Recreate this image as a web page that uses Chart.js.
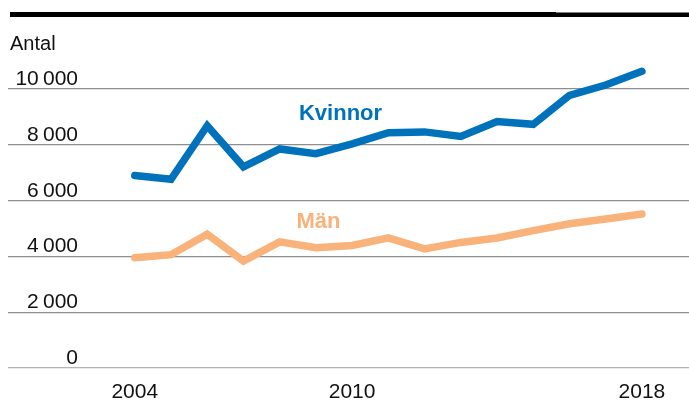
<!DOCTYPE html>
<html lang="sv">
<head>
  <meta charset="UTF-8" />
  <title>Antal - Kvinnor och Män</title>
  <script src="https://cdn.jsdelivr.net/npm/chart.js"></script>
  <style>
    body { margin: 0; background: #fff; }
    #wrap { width: 689px; height: 402px; position: relative; }
  </style>
</head>
<body>
  <div id="wrap"><canvas id="chart"></canvas></div>

  <script>
    const years = [2004, 2005, 2006, 2007, 2008, 2009, 2010, 2011, 2012, 2013, 2014, 2015, 2016, 2017, 2018];
    const kvinnor = [6900, 6760, 8680, 7210, 7850, 7680, 8030, 8430, 8460, 8300, 8830, 8730, 9770, 10140, 10630];
    const man = [3950, 4060, 4790, 3830, 4520, 4310, 4390, 4660, 4270, 4500, 4660, 4920, 5170, 5340, 5520];
    const yearTicks = [2004, 2010, 2018];
    const valueTicks = [0, 2000, 4000, 6000, 8000, 10000];

    const FONT = "'Liberation Sans', Arial, sans-serif";
    const BLUE = '#0072bc';
    const ORANGE = '#f9b27a';

    function fmt(v) {
      return String(v).replace(/\B(?=(\d{3})+(?!\d))/g, '\u2009');
    }

    // rubrik, svart linje och y-etiketter ovanför stödlinjerna
    const decor = {
      id: 'decor',
      afterDraw(chart) {
        const ctx = chart.ctx;
        const y = chart.scales.y;
        const x = chart.scales.x;
        ctx.save();
        ctx.fillStyle = '#000';
        ctx.fillRect(10, 12, 546, 5);
        ctx.fillRect(556, 12.5, 133, 4.5);

        ctx.fillStyle = '#111';
        ctx.font = '20px ' + FONT;
        ctx.textAlign = 'left';
        ctx.textBaseline = 'alphabetic';
        ctx.fillText('Antal', 10, 50);

        ctx.font = '21px ' + FONT;
        ctx.textAlign = 'right';
        y.ticks.forEach(t => {
          ctx.fillText(fmt(t.value), 78, y.getPixelForValue(t.value) - 4);
        });

        ctx.font = 'bold 22px ' + FONT;
        ctx.textAlign = 'center';
        ctx.fillStyle = BLUE;
        ctx.fillText('Kvinnor', x.getPixelForValue(2009.68), y.getPixelForValue(8900));
        ctx.fillStyle = ORANGE;
        ctx.fillText('Män', x.getPixelForValue(2009.07), y.getPixelForValue(5000));
        ctx.restore();
      }
    };

    new Chart(document.getElementById('chart'), {
      type: 'line',
      data: {
        datasets: [
          {
            label: 'Kvinnor',
            data: years.map((yr, i) => ({ x: yr, y: kvinnor[i] })),
            borderColor: BLUE,
            borderWidth: 7.5,
            borderCapStyle: 'round',
            borderJoinStyle: 'miter',
            pointRadius: 0,
            tension: 0,
            clip: false
          },
          {
            label: 'Män',
            data: years.map((yr, i) => ({ x: yr, y: man[i] })),
            borderColor: ORANGE,
            borderWidth: 7.5,
            borderCapStyle: 'round',
            borderJoinStyle: 'miter',
            pointRadius: 0,
            tension: 0,
            clip: false
          }
        ]
      },
      options: {
        responsive: true,
        maintainAspectRatio: false,
        animation: false,
        layout: { padding: { left: 8, right: 0, top: 61, bottom: 0 } },
        plugins: { legend: { display: false }, tooltip: { enabled: false } },
        scales: {
          x: {
            type: 'linear',
            min: 2000.5,
            max: 2019.3,
            afterBuildTicks: axis => { axis.ticks = yearTicks.map(v => ({ value: v })); },
            afterFit: axis => { axis.height = 34; },
            grid: { display: false },
            border: { display: false },
            ticks: {
              padding: 4,
              color: '#111',
              font: { family: FONT, size: 21 },
              callback: v => String(v)
            }
          },
          y: {
            min: 0,
            max: 11000,
            afterBuildTicks: axis => { axis.ticks = valueTicks.map(v => ({ value: v })); },
            afterFit: axis => { axis.width = 0; },
            grid: {
              drawTicks: false,
              color: ctx => ctx.tick && ctx.tick.value === 0 ? '#b4b4b4' : '#8e8e8e',
              lineWidth: 1.2
            },
            border: { display: false },
            ticks: { display: false }
          }
        }
      },
      plugins: [decor]
    });
  </script>
</body>
</html>
